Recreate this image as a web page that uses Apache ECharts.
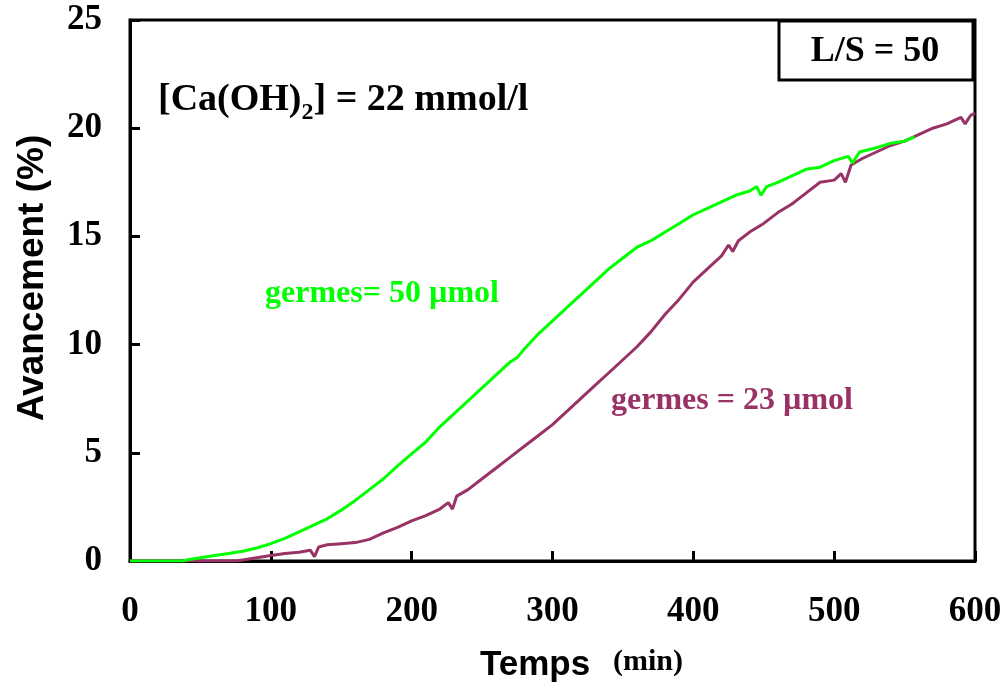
<!DOCTYPE html>
<html>
<head>
<meta charset="utf-8">
<script src="https://cdn.jsdelivr.net/npm/echarts@6/dist/echarts.min.js"></script>
<style>
html,body{margin:0;padding:0;background:#fff;}
#chart{width:1005px;height:688px;}
</style>
</head>
<body>
<div id="chart"></div>
<script>
// Data
const timeGreen = [0,10,20,30,38,40,50,60,70,80,90,100,110,120,130,140,150,160,170,180,190,200,210,220,230,240,250,260,270,275,280,290,300,310,320,330,340,350,360,370,380,390,400,410,420,430,440,445,448,452,460,470,480,490,500,510,513,518,530,540,550,557];
const valGreen  = [0,0,0,0,0,0.05,0.15,0.25,0.35,0.45,0.6,0.8,1.05,1.35,1.65,1.95,2.35,2.8,3.3,3.8,4.4,4.95,5.5,6.2,6.8,7.4,8.0,8.6,9.2,9.4,9.8,10.5,11.1,11.7,12.3,12.9,13.5,14.0,14.5,14.8,15.2,15.6,16.0,16.3,16.6,16.9,17.1,17.3,16.9,17.3,17.5,17.8,18.1,18.2,18.5,18.7,18.4,18.9,19.1,19.3,19.4,19.6];
const timePurple = [0,10,20,30,40,50,60,70,75,80,90,100,110,120,128,131,134,140,150,160,170,180,190,200,210,220,226,229,232,240,250,260,270,280,290,300,310,320,330,340,350,360,370,380,390,400,410,420,425,428,432,440,450,460,470,480,490,500,505,508,512,520,530,540,550,560,570,580,590,593,597,600];
const valPurple  = [0,0,0,0,0,0,0,0,0,0.05,0.15,0.25,0.35,0.4,0.5,0.2,0.65,0.75,0.8,0.85,1.0,1.3,1.55,1.85,2.1,2.4,2.7,2.4,3.0,3.3,3.8,4.3,4.8,5.3,5.8,6.3,6.9,7.5,8.1,8.7,9.3,9.9,10.6,11.4,12.1,12.9,13.5,14.1,14.6,14.3,14.8,15.2,15.6,16.1,16.5,17.0,17.5,17.6,17.9,17.5,18.3,18.6,18.9,19.2,19.4,19.7,20.0,20.2,20.5,20.2,20.6,20.7];
const xTicks = [0,100,200,300,400,500,600];
const yTicks = [0,5,10,15,20,25];

const pairs = (t, v) => t.map((x, i) => [x, v[i]]);
const GREEN = '#00ff00', PURPLE = '#993366';
const serif = '"Liberation Serif", "Times New Roman", serif';
const sans = '"Liberation Sans", Arial, sans-serif';

const chart = echarts.init(document.getElementById('chart'), null, {renderer: 'canvas'});
chart.setOption({
  animation: false,
  backgroundColor: '#fff',
  grid: {left: 130, right: 30, top: 20, bottom: 127, show: true, borderColor: '#000', borderWidth: 3, backgroundColor: 'transparent'},
  xAxis: {
    type: 'value', min: xTicks[0], max: xTicks[xTicks.length-1], interval: 100,
    axisLine: {show: true, lineStyle: {color: '#000', width: 3}},
    axisTick: {show: true, inside: true, length: 10, lineStyle: {color: '#000', width: 3}},
    axisLabel: {margin: 33, color: '#000', fontFamily: serif, fontWeight: 'bold', fontSize: 35},
    splitLine: {show: false}
  },
  yAxis: {
    type: 'value', min: yTicks[0], max: yTicks[yTicks.length-1], interval: 5,
    axisLine: {show: true, lineStyle: {color: '#000', width: 3}},
    axisTick: {show: true, inside: true, length: 10, lineStyle: {color: '#000', width: 3}},
    axisLabel: {margin: 28, color: '#000', fontFamily: serif, fontWeight: 'bold', fontSize: 35},
    splitLine: {show: false}
  },
  series: [
    {type: 'line', data: pairs(timeGreen, valGreen), symbol: 'none', lineStyle: {color: GREEN, width: 3}, z: 3},
    {type: 'line', data: pairs(timePurple, valPurple), symbol: 'none', lineStyle: {color: PURPLE, width: 3}, z: 2}
  ],
  graphic: [
    {type: 'rect', shape: {x: 779, y: 21, width: 194, height: 59}, style: {fill: '#fff', stroke: '#000', lineWidth: 3}, z: 100},
    {type: 'text', x: 875, y: 52, style: {text: 'L/S = 50', font: 'bold 36px ' + serif, fill: '#000', align: 'center', verticalAlign: 'middle'}, z: 101},
    {type: 'text', x: 158, y: 100, style: {
      text: '{a|[Ca(OH)}{s|2}{a|] = 22 mmol/l}', verticalAlign: 'middle', align: 'left',
      rich: {
        a: {fontFamily: serif, fontWeight: 'bold', fontSize: 38, lineHeight: 50, fill: '#000', color: '#000', verticalAlign: 'middle'},
        s: {fontFamily: serif, fontWeight: 'bold', fontSize: 24, lineHeight: 24, fill: '#000', color: '#000', verticalAlign: 'bottom'}
      }
    }, z: 101},
    {type: 'text', x: 265, y: 294, style: {text: 'germes= 50 µmol', font: 'bold 32px ' + serif, fill: GREEN, align: 'left', verticalAlign: 'middle'}, z: 101},
    {type: 'text', x: 611, y: 401, style: {text: 'germes = 23 µmol', font: 'bold 32px ' + serif, fill: PURPLE, align: 'left', verticalAlign: 'middle'}, z: 101},
    {type: 'text', x: 33, y: 278, rotation: Math.PI/2, style: {text: 'Avancement (%)', font: 'bold 37px ' + sans, fill: '#000', align: 'center', verticalAlign: 'middle'}, z: 101},
    {type: 'text', x: 535, y: 665, style: {text: 'Temps', font: 'bold 35px ' + sans, fill: '#000', align: 'center', verticalAlign: 'middle'}, z: 101},
    {type: 'text', x: 613, y: 662, style: {text: '(min)', font: 'bold 30px ' + serif, fill: '#000', align: 'left', verticalAlign: 'middle'}, z: 101}
  ]
});
</script>
</body>
</html>
